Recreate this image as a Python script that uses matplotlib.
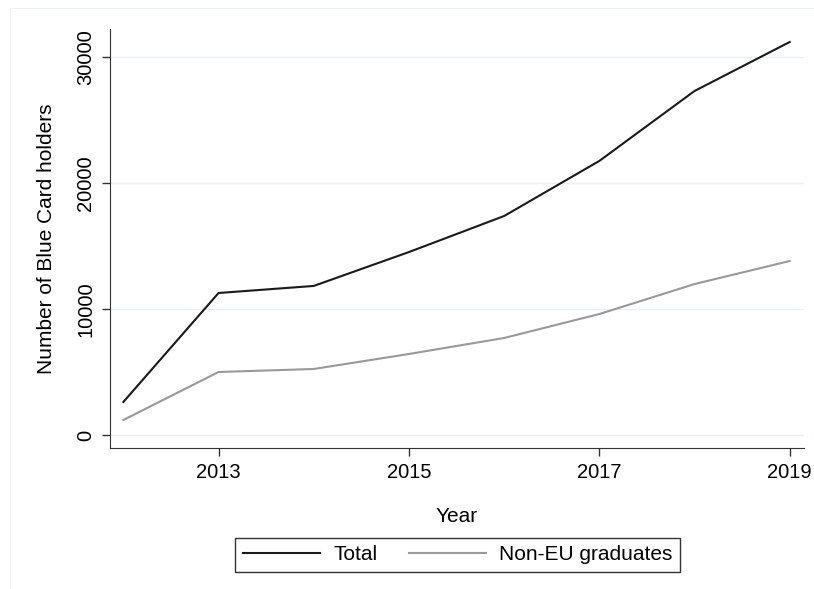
import matplotlib
matplotlib.use("Agg")
import matplotlib.pyplot as plt
from matplotlib.patches import Rectangle

plt.rcParams['font.family'] = ['Liberation Sans', 'DejaVu Sans']

years = [2012, 2013, 2014, 2015, 2016, 2017, 2018, 2019]
total = [2620, 11270, 11830, 14520, 17380, 21750, 27300, 31190]
non_eu = [1190, 5000, 5240, 6430, 7700, 9600, 11980, 13810]

x_ticks = [2013, 2015, 2017, 2019]
y_ticks = [0, 10000, 20000, 30000]

fig = plt.figure(figsize=(8.14, 5.89), dpi=100)
# faint outer frame, only left and top edges show in the picture
fig.patches.append(Rectangle((10 / 814, -0.1), 1.2, 1.1 - 8 / 589,
                             transform=fig.transFigure, fill=False,
                             edgecolor="#eef1f2", linewidth=0.8))
ax = fig.add_axes([110 / 814, 141 / 589, 694 / 814, 419 / 589])

ax.plot(years, total, color="#1a1a1a", linewidth=1.5, label="Total")
ax.plot(years, non_eu, color="#999999", linewidth=1.5, label="Non-EU graduates")

ax.set_xlim(2011.86, 2019.15)
ax.set_ylim(-1030, 32220)
ax.set_xticks(x_ticks)
ax.set_yticks(y_ticks)
ax.set_yticklabels([str(v) for v in y_ticks], rotation=90, va="center")
ax.tick_params(axis="both", labelsize=14.5, length=6, color="#333333", width=1)
ax.tick_params(axis="x", pad=4.5)
ax.tick_params(axis="y", pad=4.5)

for v in y_ticks:
    ax.axhline(v, color="#eaf1f2", linewidth=1, zorder=0)

ax.spines["top"].set_visible(False)
ax.spines["right"].set_visible(False)
ax.spines["left"].set_color("#333333")
ax.spines["bottom"].set_color("#333333")

ax.set_xlabel("Year", fontsize=15, labelpad=18)
ax.set_ylabel("Number of Blue Card holders", fontsize=15, labelpad=15)

leg = fig.legend(loc="center", bbox_to_anchor=(457.5 / 814, 1 - 555 / 589), ncol=2,
                 fontsize=15, frameon=True, fancybox=False, edgecolor="black",
                 handlelength=3.7, columnspacing=1.5, borderpad=0.35,
                 handletextpad=0.65)
leg.get_frame().set_linewidth(1)

fig.savefig("out.png", dpi=100, facecolor="white")
